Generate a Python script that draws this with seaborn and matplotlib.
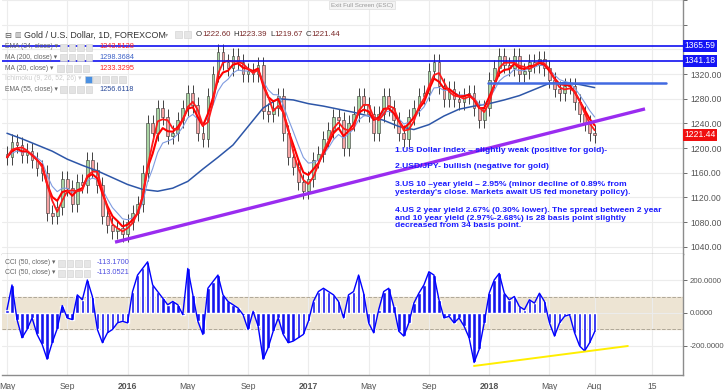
import numpy as np
import pandas as pd
import matplotlib
matplotlib.use('Agg')
import matplotlib.pyplot as plt
from matplotlib.patches import Rectangle
import seaborn as sns

# ~10-day closes, May 2015 .. Aug 2018 (3 per month)
close = [1185, 1210, 1205, 1188, 1195, 1180, 1168, 1160, 1095, 1090, 1105, 1150,
         1135, 1110, 1145, 1140, 1180, 1165, 1140, 1090, 1075, 1065, 1070, 1060,
         1080, 1095, 1110, 1160, 1240, 1225, 1265, 1250, 1220, 1225, 1245, 1265,
         1290, 1270, 1225, 1215, 1285, 1320, 1355, 1340, 1330, 1350, 1340, 1320,
         1325, 1320, 1335, 1260, 1255, 1265, 1285, 1225, 1185, 1170, 1145, 1130,
         1150, 1180, 1190, 1215, 1230, 1250, 1245, 1200, 1240, 1255, 1285, 1270,
         1255, 1225, 1255, 1285, 1265, 1245, 1225, 1215, 1250, 1265, 1285, 1290,
         1325, 1340, 1300, 1280, 1295, 1280, 1275, 1285, 1290, 1265, 1245, 1265,
         1310, 1330, 1350, 1335, 1330, 1350, 1320, 1325, 1340, 1335, 1345, 1330,
         1310, 1295, 1290, 1300, 1300, 1275, 1255, 1240, 1225, 1221.44]

# MA(200) read monthly
ma200 = [1224, 1215, 1205, 1195, 1182, 1172, 1163, 1152, 1141, 1133, 1130, 1135,
         1146, 1166, 1185, 1205, 1235, 1265, 1280, 1278, 1272, 1268, 1263, 1258,
         1252, 1245, 1235, 1230, 1238, 1252, 1263, 1268, 1272, 1278, 1285, 1295,
         1305, 1306, 1303, 1298]

# CCI(50) at the same 10-day steps
cci = [20, 170, -40, -150, -100, -30, -130, -190, -280, -180, -95, 45,
       -30, -40, 110, 80, 200, 100, -100, -180, -120, -100, -60, -50,
       -60, 130, 230, 270, 310, 170, 130, 90, 50, 70, 50, -10,
       270, 110, -50, -130, 150, 190, 230, 110, 70, 50, 30, -10,
       -100, 10, -80, -280, -210, -110, -30, -130, -180, -170, -150, -130,
       -50, 70, 130, 150, 130, 110, 70, -30, 110, 130, 230, 120,
       -60, -120, 20, 130, 150, 40, -110, -140, -60, 60, 120, 170,
       250, 230, 80, -30, -20, -60, -30, -80, -150, -300, -220, -60,
       120, 200, 240, 120, 80, 100, 40, 20, 80, 60, 120, 70,
       -60, -140, -60, -20, -10, -120, -200, -230, -180, -113]

tick_pos = [0, 4, 8, 12, 16, 20, 24, 28, 32, 36, 39, 42.8]
tick_lab = ['May', 'Sep', '2016', 'May', 'Sep', '2017', 'May', 'Sep', '2018', 'May', 'Aug', '15']

level_hi = [1365.59, 1341.18]
level_mid = 1306
trend_x, trend_y = [7.17, 42.34], [1047.5, 1263.5]
cci_trend_x, cci_trend_y = [30.99, 41.2], [-321, -200]

ohlc_lab = ['O', 'H', 'L', 'C']
ohlc_val = ['1222.60', '1223.39', '1219.67', '1221.44']

notes = ["1.US Dollar index \u2013 slightly weak (positive for gold)-",
         "2.USD/JPY- bullish (negative for gold)",
         "3.US 10 \u2013year yield \u2013 2.95% (minor decline of 0.89% from\nyesterday's close. Markets await US fed monetary policy).",
         "4.US 2 year yield 2.67% (0.30% lower). The spread between 2 year\nand 10 year yield (2.97%-2.68%) is 28 basis point slightly\ndecreased from 34 basis point."]

sns.set_style('white')
plt.rcParams['font.family'] = ['Liberation Sans', 'DejaVu Sans']

W, H = 724, 390
fig = plt.figure(figsize=(W / 100, H / 100), dpi=100)


def px_axes(x0, y0, x1, y1):
    return fig.add_axes([x0 / W, 1 - y1 / H, (x1 - x0) / W, (y1 - y0) / H])


def ftxt(x, y, s, **kw):
    kw.setdefault('va', 'center')
    return fig.text(x / W, 1 - y / H, s, **kw)


def fbox(x, y, w, h, fc='#e6e6e6', ec='#cfcfcf'):
    fig.patches.append(Rectangle((x / W, 1 - (y + h) / H), w / W, h / H, fc=fc, ec=ec, lw=0.4,
                                 transform=fig.transFigure, figure=fig, zorder=20))


ax = px_axes(2, 0, 683, 254)
axc = px_axes(2, 254, 683, 375)

df = pd.DataFrame({'m': np.arange(len(close)) / 3.0, 'close': close})
df['open'] = df['close'].shift(1).fillna(1190)
df['ema34'] = df['close'].ewm(span=4, adjust=False).mean()
df['ma20'] = df['close'].rolling(3, min_periods=1).mean()
df['ema55'] = df['close'].ewm(span=6.5, adjust=False).mean()
ma_df = pd.DataFrame({'m': np.arange(len(ma200)), 'ma200': ma200})

# candles
wick = 13
lo = np.minimum(df['open'], df['close'])
hi = np.maximum(df['open'], df['close'])
ax.vlines(df['m'], lo - wick, hi + wick, color='#222222', lw=0.6, zorder=3)
up = df['close'] >= df['open']
ax.bar(df['m'], np.maximum(hi - lo, 1.5), bottom=lo, width=0.18,
       color=np.where(up, '#a9d4a3', '#f4a3a3'), edgecolor='#333333', lw=0.4, zorder=4)

sns.lineplot(data=ma_df, x='m', y='ma200', ax=ax, color='#2d56a8', lw=1.1, zorder=5)
sns.lineplot(data=df, x='m', y='ema55', ax=ax, color='#7f9be0', lw=0.8, zorder=5)
sns.lineplot(data=df, x='m', y='ema34', ax=ax, color='#ff0000', lw=1.5, zorder=6)
sns.lineplot(data=df, x='m', y='ma20', ax=ax, color='#ff1a1a', lw=1.3, zorder=6)

for lv in level_hi:
    ax.axhline(lv, color='#1010f0', lw=1.2, zorder=7)
ax.plot([31.9, 43.7], [level_mid, level_mid], color='#4169e1', lw=1.8, zorder=7)
ax.plot(trend_x, trend_y, color='#9a2cf0', lw=2.4, zorder=8, solid_capstyle='butt')

xlim = (-0.33, 44.86)
ax.set_xlim(*xlim)
ax.set_ylim(1028.3, 1434.7)
ax.set_xticks(tick_pos)
ax.set_xticklabels([])
yt = np.arange(1040, 1441, 40)
ax.set_yticks(yt)
ax.set_yticklabels([f'{v:.2f}' if v <= 1320 else '' for v in yt])
ax.yaxis.tick_right()
ax.tick_params(axis='y', labelsize=6.2, colors='#555555', length=3, pad=2, width=0.6)
ax.tick_params(axis='x', length=0)
ax.grid(True, color='#ececec', lw=0.8)
ax.set_xlabel('')
ax.set_ylabel('')
for s in ['top', 'left']:
    ax.spines[s].set_visible(False)
for s in ['right', 'bottom']:
    ax.spines[s].set_color('#8c8c8c')
    ax.spines[s].set_linewidth(1)

for lv in level_hi:
    ax.text(1.002, lv, f'{lv:.2f}', transform=ax.get_yaxis_transform(), fontsize=6.2,
            color='white', va='center', ha='left', clip_on=False,
            bbox=dict(boxstyle='square,pad=0.2', fc='#1515f5', ec='none'))
ax.text(1.002, close[-1], f'{close[-1]:.2f}', transform=ax.get_yaxis_transform(), fontsize=6.2,
        color='white', va='center', ha='left', clip_on=False,
        bbox=dict(boxstyle='square,pad=0.2', fc='#f01010', ec='none'))

# CCI panel
m = df['m']
axc.axhspan(-100, 100, color='#ede4d3', zorder=0)
axc.axhline(100, color='#b0a898', lw=0.7, ls='--', zorder=1)
axc.axhline(-100, color='#b0a898', lw=0.7, ls='--', zorder=1)
axc.bar(m, cci, width=0.24, color='#1515f0', zorder=3)
axc.plot(m, cci, color='#0000ff', lw=1.0, zorder=4)
axc.plot(cci_trend_x, cci_trend_y, color='#ffee00', lw=1.4, zorder=5)
axc.set_xlim(*xlim)
axc.set_ylim(-375.8, 357.6)
axc.set_yticks([200, 0, -200])
axc.set_yticklabels(['200.0000', '0.0000', '-200.0000'])
axc.yaxis.tick_right()
axc.set_xticks(tick_pos)
axc.set_xticklabels(tick_lab)
for lab in axc.get_xticklabels():
    if lab.get_text().startswith('20'):
        lab.set_fontweight('bold')
axc.tick_params(axis='y', labelsize=5.6, colors='#555555', length=3, pad=1.5, width=0.6)
axc.tick_params(axis='x', labelsize=6.2, colors='#555555', length=3, pad=2, width=0.6)
axc.grid(True, color='#ececec', lw=0.8)
for s in ['top', 'left']:
    axc.spines[s].set_visible(False)
for s in ['right', 'bottom']:
    axc.spines[s].set_color('#8c8c8c')
    axc.spines[s].set_linewidth(1)

# header / legend overlays
ftxt(362, 5, 'Exit Full Screen (ESC)', fontsize=4.5, color='#999999', ha='center',
     bbox=dict(boxstyle='square,pad=0.3', fc='#f4f4f4', ec='#dddddd', lw=0.5))
ftxt(4, 35, '\u229f', fontsize=6, color='#555555', family=['DejaVu Sans'])
ftxt(14, 35, '\u25a5', fontsize=5, color='#777777', family=['DejaVu Sans'])
ftxt(24, 35, 'Gold / U.S. Dollar, 1D, FOREXCOM', fontsize=6.4, color='#333333')
ftxt(165, 35, '\u25be', fontsize=4.5, color='#999999', family=['DejaVu Sans'])
fbox(175, 31, 7, 7)
fbox(184, 31, 7, 7)
lab_w = {'O': 6.2, 'H': 5.8, 'L': 4.6, 'C': 5.8}
for x0, lbl, val in zip([196, 233, 270, 306], ohlc_lab, ohlc_val):
    ftxt(x0, 35, lbl, fontsize=5.7, color='#333333')
    ftxt(x0 + lab_w[lbl], 35, val, fontsize=5.7, color='#7a2a2a')

legend = [('EMA (34, close)', '1243.5128', '#ff2020', 47, '#666666', 60),
          ('MA (200, close)', '1298.3684', '#3f63c8', 57.5, '#666666', 60),
          ('MA (20, close)', '1233.3295', '#ff2020', 68, '#666666', 57),
          ('Ichimoku (9, 26, 52, 26)', '', '#aaaaaa', 79, '#cccccc', 85),
          ('EMA (55, close)', '1256.6118', '#2a4a9a', 89.5, '#666666', 60)]
for name, val, col, y, ncol, bx in legend:
    ftxt(5, y, name + ' \u25be', fontsize=4.9, color=ncol, family=['Liberation Sans', 'DejaVu Sans'])
    nb = 5 if not val else 4
    for k in range(nb):
        fbox(bx + k * 8.5, y - 3, 6.5, 6.5, fc='#4a90e2' if (not val and k == 0) else '#e3e3e3')
    if val:
        ftxt(99, y, val, fontsize=5.3, color=col)
for y, val in [(263, '-113.1700'), (273, '-113.0521')]:
    ftxt(5, y, 'CCI (50, close) \u25be', fontsize=4.9, color='#666666', family=['Liberation Sans', 'DejaVu Sans'])
    for k in range(4):
        fbox(58 + k * 8.5, y - 3, 6.5, 6.5)
    ftxt(97, y, val, fontsize=5.3, color='#5050e0')

note_y = [150, 167, 188.5, 218]
for s, y in zip(notes, note_y):
    ftxt(395, y, s, fontsize=6.1, color='#1a1aff', fontweight='bold', linespacing=1.05)

fig.savefig('out.png', dpi=100)
